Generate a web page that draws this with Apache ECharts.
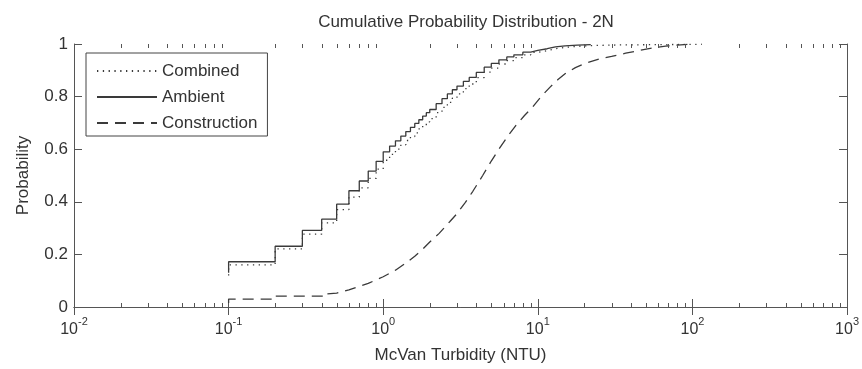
<!DOCTYPE html>
<html><head><meta charset="utf-8">
<script src="https://cdn.jsdelivr.net/npm/echarts@6/dist/echarts.min.js"></script>
<style>html,body{margin:0;padding:0;background:#fff}#c{width:862px;height:369px}</style>
</head><body><div id="c"></div>
<script>
const titleText = 'Cumulative Probability Distribution - 2N';
const xName = 'McVan Turbidity (NTU)';
const yName = 'Probability';
const seriesNames = ['Combined', 'Ambient', 'Construction'];
const xTickExponents = [-2, -1, 0, 1, 2, 3];
const yTickLabels = ['0', '0.2', '0.4', '0.6', '0.8', '1'];
const minorMultipliers = [2, 3, 4, 5, 6, 7, 8, 9];

const combinedX = [0.1, 0.1, 0.2, 0.3, 0.4, 0.5, 0.6, 0.7, 0.8, 0.9, 1.0, 1.1, 1.2, 1.3, 1.4, 1.5, 1.6, 1.7, 1.8, 1.9, 2.0, 2.2, 2.4, 2.6, 2.8, 3.0, 3.3, 3.6, 4.0, 4.5, 5.0, 5.6, 6.3, 7.0, 8.0, 9.0, 10, 11.5, 13, 15, 18, 22, 30, 45, 70, 115];
const combinedP = [0.12, 0.16, 0.221, 0.277, 0.32, 0.37, 0.418, 0.453, 0.489, 0.524, 0.558, 0.58, 0.6, 0.617, 0.633, 0.648, 0.662, 0.677, 0.691, 0.704, 0.716, 0.739, 0.759, 0.778, 0.795, 0.81, 0.83, 0.848, 0.872, 0.893, 0.908, 0.924, 0.937, 0.948, 0.959, 0.968, 0.975, 0.982, 0.987, 0.991, 0.994, 0.996, 0.997, 0.998, 0.999, 1.0];

const ambientX = [0.1, 0.1, 0.2, 0.3, 0.4, 0.5, 0.6, 0.7, 0.8, 0.9, 1.0, 1.1, 1.2, 1.3, 1.4, 1.5, 1.6, 1.7, 1.8, 1.9, 2.0, 2.2, 2.4, 2.6, 2.8, 3.0, 3.3, 3.6, 4.0, 4.5, 5.0, 5.6, 6.3, 7.0, 8.0, 9.0, 10, 11.5, 13, 15, 18, 22];
const ambientP = [0.13, 0.172, 0.231, 0.291, 0.334, 0.391, 0.442, 0.479, 0.517, 0.554, 0.59, 0.612, 0.632, 0.65, 0.667, 0.683, 0.698, 0.712, 0.726, 0.739, 0.751, 0.773, 0.792, 0.81, 0.826, 0.84, 0.858, 0.873, 0.892, 0.912, 0.926, 0.94, 0.951, 0.959, 0.969, 0.976, 0.982, 0.989, 0.993, 0.996, 0.998, 1.0];

// construction: early steps given as paired points, then the fine-grained curve
const constructionX = [0.1, 0.1, 0.2, 0.2, 0.43, 0.43, 0.5, 0.6, 0.7, 0.8, 0.9, 1.0, 1.2, 1.4, 1.6, 1.8, 2.0, 2.3, 2.7, 3.0, 3.4, 3.8, 4.4, 5.0, 5.6, 6.4, 7.2, 8.2, 9.3, 10.5, 12, 13.5, 15, 17.5, 20.5, 25, 30, 37, 45, 55, 67, 80, 100];
const constructionP = [0.015, 0.03, 0.03, 0.041, 0.041, 0.05, 0.053, 0.065, 0.078, 0.09, 0.103, 0.115, 0.14, 0.167, 0.193, 0.22, 0.247, 0.28, 0.325, 0.355, 0.398, 0.44, 0.5, 0.555, 0.6, 0.65, 0.69, 0.728, 0.762, 0.8, 0.836, 0.865, 0.887, 0.91, 0.928, 0.943, 0.953, 0.965, 0.975, 0.985, 0.992, 0.996, 1.0];

const FONT = "'Liberation Sans', Arial, sans-serif";
const TXT = '#333';
const AX = '#555';
const LINE = '#3a3a3a';

const zip = (xs, ys) => xs.map((x, i) => [x, ys[i]]);
const minorValues = [];
xTickExponents.slice(0, -1).forEach(e => minorMultipliers.forEach(m => minorValues.push([m * Math.pow(10, e), 0])));

const chart = echarts.init(document.getElementById('c'), null, { renderer: 'canvas' });
const xBase = { type: 'log', logBase: 10, min: 0.01, max: 1000, splitNumber: 5 };
const yBase = { type: 'value', min: 0, max: 1, interval: 0.2 };
chart.setOption({
  animation: false,
  backgroundColor: '#fff',
  textStyle: { fontFamily: FONT },
  title: {
    text: titleText, left: 461, top: 9, textAlign: 'center',
    textStyle: { fontSize: 17, fontWeight: 'normal', color: TXT, fontFamily: FONT }
  },
  grid: { left: 74, right: 14, top: 44, bottom: 58, show: false },
  legend: {
    data: seriesNames, orient: 'vertical', left: 86, top: 53,
    itemWidth: 60, itemHeight: 14, itemGap: 6,
    padding: [8, 10, 3, 10],
    itemStyle: { color: 'rgba(0,0,0,0)', borderWidth: 0, opacity: 0 },
    backgroundColor: '#fff', borderColor: '#444', borderWidth: 1, borderRadius: 0,
    textStyle: { fontSize: 17, color: TXT, fontFamily: FONT, lineHeight: 20 }
  },
  xAxis: [
    Object.assign({}, xBase, {
      position: 'bottom', name: xName, nameLocation: 'middle', nameGap: 40,
      nameTextStyle: { fontSize: 17, color: TXT, fontFamily: FONT },
      axisLine: { show: true, lineStyle: { color: AX, width: 1 } },
      axisTick: { show: true, inside: true, length: 8, lineStyle: { color: AX } },
      splitLine: { show: false },
      axisLabel: {
        margin: 9, color: TXT, fontFamily: FONT,
        formatter: v => '{b|10}{s|' + Math.round(Math.log10(v)) + '}',
        rich: {
          b: { fontSize: 16, lineHeight: 22, verticalAlign: 'bottom', color: TXT, fontFamily: FONT },
          s: { fontSize: 11, lineHeight: 12, verticalAlign: 'top', color: TXT, fontFamily: FONT }
        }
      }
    }),
    Object.assign({}, xBase, {
      position: 'top',
      axisLine: { show: true, lineStyle: { color: AX, width: 1 } },
      axisTick: { show: true, inside: true, length: 8, lineStyle: { color: AX } },
      axisLabel: { show: false }, splitLine: { show: false }
    })
  ],
  yAxis: [
    Object.assign({}, yBase, {
      position: 'left', name: yName, nameLocation: 'middle', nameGap: 42,
      nameTextStyle: { fontSize: 17, color: TXT, fontFamily: FONT },
      axisLine: { show: true, lineStyle: { color: AX, width: 1 } },
      axisTick: { show: true, inside: true, length: 8, lineStyle: { color: AX } },
      splitLine: { show: false },
      axisLabel: {
        margin: 6, fontSize: 17, color: TXT, fontFamily: FONT,
        formatter: v => yTickLabels[Math.round(v / 0.2)]
      }
    }),
    Object.assign({}, yBase, {
      position: 'right',
      axisLine: { show: true, lineStyle: { color: AX, width: 1 } },
      axisTick: { show: true, inside: true, length: 8, lineStyle: { color: AX } },
      axisLabel: { show: false }, splitLine: { show: false }
    })
  ],
  series: [
    {
      name: seriesNames[0], type: 'line', step: 'end', symbol: 'none',
      data: zip(combinedX, combinedP),
      lineStyle: { color: LINE, width: 1.3, type: [1.3, 4.5] },
      itemStyle: { color: LINE }, z: 3
    },
    {
      name: seriesNames[1], type: 'line', step: 'end', symbol: 'none',
      data: zip(ambientX, ambientP),
      lineStyle: { color: LINE, width: 1.3, type: 'solid' },
      itemStyle: { color: LINE }, z: 4
    },
    {
      name: seriesNames[2], type: 'line', symbol: 'none',
      data: zip(constructionX, constructionP),
      lineStyle: { color: LINE, width: 1.3, type: [11, 7] },
      itemStyle: { color: LINE }, z: 3
    },
    {
      type: 'custom', silent: true, clip: false, z: 5,
      data: minorValues, encode: { x: 0, y: 1 },
      renderItem: (params, api) => {
        const v = api.value(0);
        const b = api.coord([v, 0]);
        const t = api.coord([v, 1]);
        const xp = Math.round(b[0]) + 0.5;
        return {
          type: 'group', children: [
            { type: 'line', shape: { x1: xp, y1: b[1], x2: xp, y2: b[1] - 4 }, style: { stroke: AX, lineWidth: 1 } },
            { type: 'line', shape: { x1: xp, y1: t[1], x2: xp, y2: t[1] + 4 }, style: { stroke: AX, lineWidth: 1 } }
          ]
        };
      }
    }
  ]
});
</script>
</body></html>
